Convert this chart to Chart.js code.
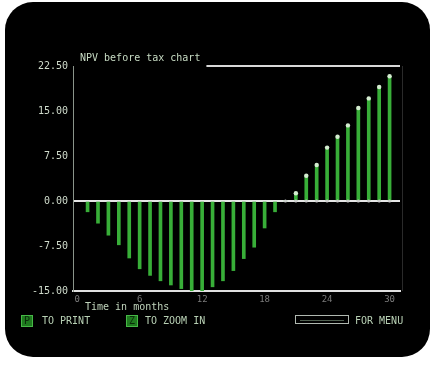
<!DOCTYPE html>
<html>
<head>
<meta charset="utf-8">
<script src="https://cdn.jsdelivr.net/npm/chart.js@4"></script>
<style>
  html, body { margin: 0; padding: 0; background: #ffffff; }
  #wrap { width: 430px; height: 367px; position: relative; }
</style>
</head>
<body>
<div id="wrap"><canvas id="c" width="430" height="367"></canvas></div>
<script>
// ---- data ----
const months = [1,2,3,4,5,6,7,8,9,10,11,12,13,14,15,16,17,18,19,20,21,22,23,24,25,26,27,28,29,30];
const npvValues = [-1.8,-3.7,-5.7,-7.3,-9.5,-11.3,-12.4,-13.3,-14.0,-14.6,-15.0,-15.0,-14.3,-13.3,-11.6,-9.6,-7.7,-4.5,-1.8,0,
                   1.3,4.2,6.0,8.9,10.7,12.6,15.5,17.1,19.0,20.8];
const xTickValues = [0,6,12,18,24,30];
const yTickValues = [-15,-7.5,0,7.5,15,22.5];
const chartTitle = "NPV before tax chart";
const xAxisTitle = "Time in months";
const footerItems = [
  { key: "P", label: "TO PRINT" },
  { key: "Z", label: "TO ZOOM IN" },
  { key: "", label: "FOR MENU" }
];

const MONO = '"DejaVu Sans Mono", "Liberation Mono", monospace';
const barData = months.map((m, i) => ({ x: m, y: npvValues[i] }));
const topPoints = months.map((m, i) => ({ x: m, y: npvValues[i] })).filter(p => p.y > 0);
const basePoints = months.map((m, i) => ({ x: m, y: 0 })).filter((p, i) => npvValues[i] >= 0);

const screenPlugin = {
  id: 'screen',
  beforeDraw(chart) {
    const ctx = chart.ctx;
    ctx.save();
    ctx.fillStyle = '#ffffff';
    ctx.fillRect(0, 0, chart.width, chart.height);
    ctx.fillStyle = '#000000';
    ctx.beginPath();
    ctx.roundRect(5, 2, 425, 355, 28);
    ctx.fill();
    ctx.restore();
  },
  afterDraw(chart) {
    const ctx = chart.ctx;
    const a = chart.chartArea;
    ctx.save();
    // title
    ctx.font = '10px ' + MONO;
    ctx.fillStyle = '#c8dcc4';
    ctx.textBaseline = 'middle';
    ctx.textAlign = 'left';
    ctx.fillText(chartTitle, 80, 58);
    const tw = ctx.measureText(chartTitle).width;
    // top frame line
    ctx.strokeStyle = '#d8d8d8';
    ctx.lineWidth = 2;
    ctx.beginPath();
    ctx.moveTo(80 + tw + 6, a.top);
    ctx.lineTo(a.right, a.top);
    ctx.stroke();
    // right frame line (faint)
    ctx.strokeStyle = '#2a2a2a';
    ctx.lineWidth = 1;
    ctx.beginPath();
    ctx.moveTo(a.right + 2.5, a.top);
    ctx.lineTo(a.right + 2.5, a.bottom);
    ctx.stroke();
    // x axis title
    ctx.fillStyle = '#c0d4bc';
    ctx.fillText(xAxisTitle, 85, 307);
    // footer
    ctx.font = '10px ' + MONO;
    ctx.textBaseline = 'middle';
    const fy = 321;
    const drawKey = (x, key) => {
      ctx.fillStyle = '#1f7a1f';
      ctx.fillRect(x, fy - 6, 12, 12);
      ctx.strokeStyle = '#46b846';
      ctx.lineWidth = 1;
      ctx.strokeRect(x + 0.5, fy - 5.5, 11, 11);
      ctx.fillStyle = '#0a2a0a';
      ctx.textAlign = 'center';
      ctx.fillText(key, x + 6, fy + 0.5);
    };
    drawKey(21, footerItems[0].key);
    ctx.fillStyle = '#b8d0b4';
    ctx.textAlign = 'left';
    ctx.fillText(footerItems[0].label, 42, fy);
    drawKey(126, footerItems[1].key);
    ctx.fillStyle = '#b8d0b4';
    ctx.textAlign = 'left';
    ctx.fillText(footerItems[1].label, 145, fy);
    // space bar icon
    ctx.strokeStyle = '#b0b8b0';
    ctx.lineWidth = 1;
    ctx.strokeRect(295.5, 315.5, 53, 8);
    ctx.strokeStyle = '#506050';
    ctx.beginPath();
    ctx.moveTo(300, 320.5); ctx.lineTo(344, 320.5);
    ctx.stroke();
    ctx.fillStyle = '#b8d0b4';
    ctx.fillText(footerItems[2].label, 355, fy);
    ctx.restore();
  }
};

new Chart(document.getElementById('c'), {
  type: 'bar',
  data: {
    datasets: [
      {
        type: 'bar',
        data: barData,
        backgroundColor: '#38ae38',
        borderWidth: 0,
        barThickness: 3,
        order: 3
      },
      {
        type: 'scatter',
        data: basePoints,
        backgroundColor: '#cfcfcf',
        borderWidth: 0,
        pointRadius: 1.6,
        order: 2
      },
      {
        type: 'scatter',
        data: topPoints,
        backgroundColor: '#d4ecd0',
        borderWidth: 0,
        pointRadius: 2.2,
        order: 1
      }
    ]
  },
  plugins: [screenPlugin],
  options: {
    responsive: false,
    animation: false,
    layout: { padding: { left: 0, right: 30, top: 66, bottom: 52 } },
    plugins: { legend: { display: false }, tooltip: { enabled: false }, title: { display: false } },
    scales: {
      x: {
        type: 'linear',
        min: -0.4,
        max: 31,
        offset: false,
        afterFit(scale) { scale.height = 24; },
        afterBuildTicks(scale) { scale.ticks = xTickValues.map(v => ({ value: v })); },
        grid: { display: false, drawTicks: false, tickLength: 0 },
        border: { display: true, color: '#e0e0e0', width: 2 },
        ticks: { color: '#7a7a7a', font: { family: MONO, size: 9 }, padding: 3, maxRotation: 0, autoSkip: false }
      },
      y: {
        min: -15,
        max: 22.5,
        afterFit(scale) { scale.width = 73; },
        afterBuildTicks(scale) { scale.ticks = yTickValues.map(v => ({ value: v })); },
        grid: {
          drawTicks: false,
          tickLength: 0,
          color: c => (c.tick && c.tick.value === 0) ? '#e6e6e6' : 'rgba(0,0,0,0)',
          lineWidth: 2
        },
        border: { display: true, color: '#8a948a', width: 1 },
        ticks: {
          color: '#d0dccc', font: { family: MONO, size: 10 }, padding: 5,
          callback: v => Number(v).toFixed(2)
        }
      }
    }
  }
});
</script>
</body>
</html>
